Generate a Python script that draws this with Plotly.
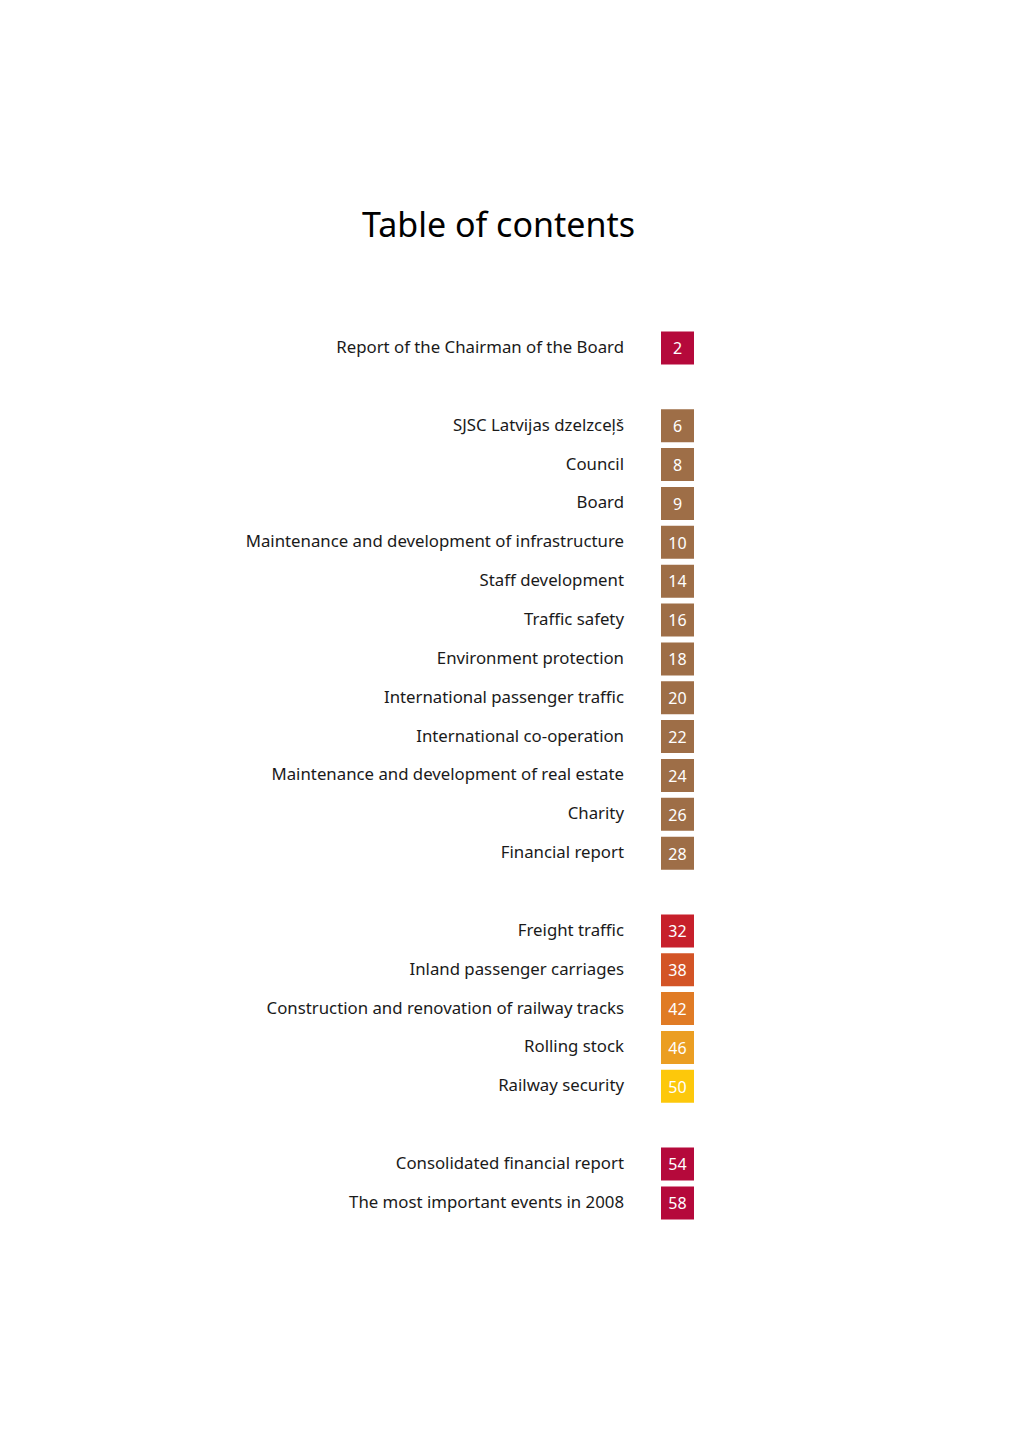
import plotly.graph_objects as go

# --- data ---
group1_labels = ["Report of the Chairman of the Board"]
group1_pages = [2]
group1_colors = ["#B5093B"]

group2_labels = ["SJSC Latvijas dzelzceļš", "Council", "Board",
                 "Maintenance and development of infrastructure", "Staff development",
                 "Traffic safety", "Environment protection", "International passenger traffic",
                 "International co-operation", "Maintenance and development of real estate",
                 "Charity", "Financial report"]
group2_pages = [6, 8, 9, 10, 14, 16, 18, 20, 22, 24, 26, 28]
group2_colors = ["#9E6E47"] * 12

group3_labels = ["Freight traffic", "Inland passenger carriages",
                 "Construction and renovation of railway tracks", "Rolling stock",
                 "Railway security"]
group3_pages = [32, 38, 42, 46, 50]
group3_colors = ["#C7202B", "#D35426", "#E07B25", "#EB9E22", "#FDC80B"]

group4_labels = ["Consolidated financial report", "The most important events in 2008"]
group4_pages = [54, 58]
group4_colors = ["#B5093B", "#B5093B"]

groups = [
    (group1_labels, group1_pages, group1_colors),
    (group2_labels, group2_pages, group2_colors),
    (group3_labels, group3_pages, group3_colors),
    (group4_labels, group4_pages, group4_colors),
]

labels, pages, colors, slots = [], [], [], []
slot = 0
for gl, gp, gc in groups:
    for l, p, c in zip(gl, gp, gc):
        labels.append(l)
        pages.append(str(p))
        colors.append(c)
        slots.append(slot)
        slot += 1
    slot += 1  # blank row between groups

FONT = "Noto Sans"
OFF = 8  # page body margin
BOX_X = 677.5
LABEL_X = 624

fig = go.Figure()
fig.add_trace(go.Scatter(
    x=[BOX_X] * len(slots), y=slots, mode="markers",
    marker=dict(symbol="square", size=33, color=colors, line=dict(width=0)),
    hoverinfo="skip", showlegend=False,
))
fig.add_trace(go.Scatter(
    x=[BOX_X] * len(slots), y=[s + 0.06 for s in slots], mode="text",
    text=pages, textposition="middle center",
    textfont=dict(family=FONT, size=16, color="white"),
    hoverinfo="skip", showlegend=False,
))
fig.add_trace(go.Scatter(
    x=[LABEL_X] * len(slots), y=[s + 0.02 for s in slots], mode="text",
    text=labels, textposition="middle left",
    textfont=dict(family=FONT, size=16.8, color="#1a1a1a"),
    hoverinfo="skip", showlegend=False,
))

row_h = 38.86
y0_px = 348 - OFF
fig.update_layout(
    width=1020, height=1442,
    margin=dict(l=0, r=0, t=0, b=0),
    paper_bgcolor="white", plot_bgcolor="white",
    xaxis=dict(range=[OFF, 1020 + OFF], visible=False, fixedrange=True),
    yaxis=dict(range=[(1442 - y0_px) / row_h, -y0_px / row_h], visible=False, fixedrange=True),
    annotations=[dict(
        text="Table of contents", x=498, y=(224 - 348) / row_h, xref="x", yref="y",
        showarrow=False, xanchor="center", yanchor="middle",
        font=dict(family=FONT, size=34, color="black"),
    )],
)

fig.write_html("out.html")
